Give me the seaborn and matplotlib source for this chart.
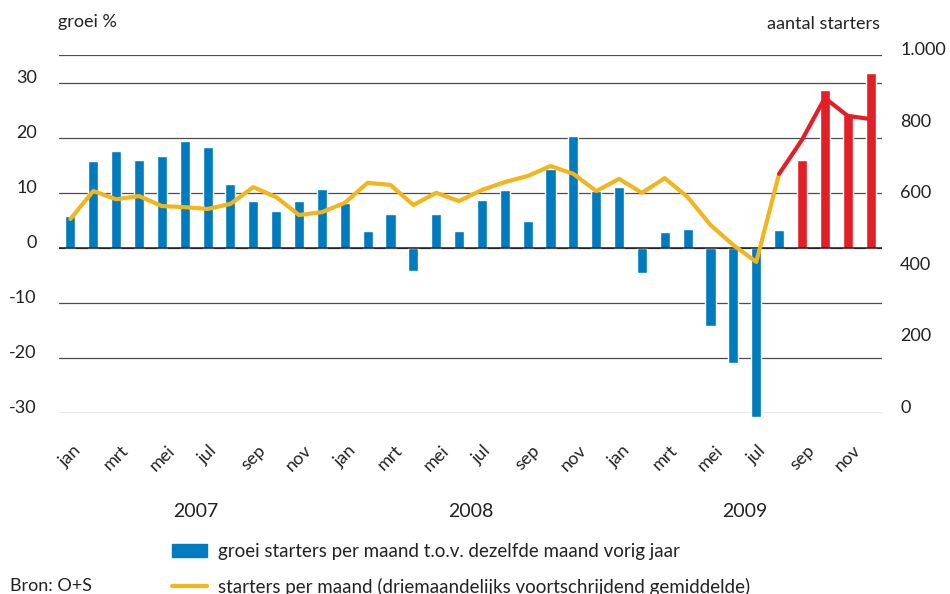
import matplotlib
matplotlib.use('Agg')
import matplotlib.pyplot as plt
import matplotlib.transforms as mtransforms
from matplotlib.patches import Patch
from matplotlib.lines import Line2D
import pandas as pd
import seaborn as sns

# data, jan 2007 .. dec 2009
maanden = ['jan', 'feb', 'mrt', 'apr', 'mei', 'jun', 'jul', 'aug', 'sep', 'okt', 'nov', 'dec']
jaren = ['2007', '2008', '2009']
groei = [5.8, 15.8, 17.6, 16.0, 16.7, 19.4, 18.3, 11.6, 8.5, 6.7, 8.5, 10.7,
         8.1, 3.1, 6.2, -4.2, 6.2, 3.1, 8.7, 10.5, 4.9, 14.3, 20.3, 10.3,
         11.1, -4.5, 2.9, 3.4, -14.2, -20.9, -30.7, 3.3, 16.0, 28.7, 24.1, 31.8]
periode = ['blauw'] * 32 + ['rood'] * 4
# starters per maand (3-maands voortschrijdend gemiddelde)
starters_geel = [542, 620, 597, 606, 578, 575, 570, 584, 631, 603, 553, 561,
                 587, 643, 637, 581, 615, 592, 623, 645, 662, 690, 668, 620,
                 654, 615, 656, 603, 525, 469, 422, 668]
starters_rood = [668, 763, 880, 830, 821]  # aug .. dec 2009
rechts_ticks = [0, 200, 400, 600, 800, 1000]
rechts_labels = ['0', '200', '400', '600', '800', '1.000']

BLUE = '#007bbd'
RED = '#e21f26'
YELLOW = '#f3b51c'
GRID = '#4d4d4d'
TXT = '#222222'
FS = 13

sns.set_theme(style='white')
plt.rcParams['font.family'] = ['Lato', 'DejaVu Sans']
plt.rcParams['font.size'] = FS
plt.rcParams['text.color'] = TXT

fig = plt.figure(figsize=(9.5, 5.94), dpi=100)
ax = fig.add_axes([0.0621, 0.3047, 0.8663, 0.6027])

n = len(groei)
df = pd.DataFrame({'pos': list(range(n)), 'groei': groei, 'periode': periode})
sns.barplot(data=df, x='pos', y='groei', hue='periode',
            palette={'blauw': BLUE, 'rood': RED}, dodge=False, width=0.44,
            saturation=1, errorbar=None, legend=False, ax=ax, zorder=2)
for p in ax.patches:
    p.set_clip_on(False)

ax.set_ylim(-30, 35)
ax.set_yticks(range(-30, 31, 10))
ax.set_yticklabels([str(v) for v in range(-30, 31, 10)])
ax.yaxis.grid(True, color=GRID, lw=0.9)
ax.set_axisbelow(True)
ax.axhline(0, color='#1a1a1a', lw=1.1, zorder=3)
ax.axhline(35, color=GRID, lw=0.9, zorder=1)

ax2 = ax.twinx()
sns.lineplot(x=list(range(len(starters_geel))), y=starters_geel, color=YELLOW,
             lw=3, ax=ax2)
sns.lineplot(x=list(range(len(starters_geel) - 1, n)), y=starters_rood, color=RED,
             lw=3, ax=ax2)
ax2.set_ylim(0, 1000)
ax2.set_yticks(rechts_ticks)
ax2.set_yticklabels(rechts_labels)
ax2.set_ylabel('')

ax.set_xlim(-0.5, n - 0.5)
ax.set_xticks(range(0, n, 2))
ax.set_xticklabels(maanden[::2] * 3, rotation=45, ha='center')
ax.set_xlabel('')
ax.set_ylabel('')

for a in (ax, ax2):
    for s in a.spines.values():
        s.set_visible(False)
ax.tick_params(axis='x', length=0, pad=21, labelsize=FS, colors=TXT)
ax.tick_params(axis='y', length=0, pad=16, labelsize=FS, colors=TXT)
ax2.tick_params(axis='y', length=0, pad=13, labelsize=FS, colors=TXT)
plt.setp(ax.get_yticklabels(), va='baseline')
plt.setp(ax2.get_yticklabels(), va='baseline')

# jaartallen onder de maanden
trans = mtransforms.blended_transform_factory(ax.transData, ax.transAxes)
for i, jaar in enumerate(jaren):
    ax.text(5.5 + 12 * i, -0.276, jaar, transform=trans, ha='center',
            va='center', fontsize=14)

fig.text(58 / 950, 1 - 22 / 594, 'groei %', ha='left', va='center')
fig.text(880 / 950, 1 - 24 / 594, 'aantal starters', ha='right', va='center')
fig.text(10 / 950, 1 - 586 / 594, 'Bron: O+S', ha='left', va='center')

handles = [Patch(color=BLUE), Line2D([], [], color=YELLOW, lw=3)]
labels = ['groei starters per maand t.o.v. dezelfde maand vorig jaar',
          'starters per maand (driemaandelijks voortschrijdend gemiddelde)']
fig.legend(handles, labels, loc='upper left', bbox_to_anchor=(172 / 950, 1 - 543 / 594),
           frameon=False, handlelength=1.85, handleheight=0.72, handletextpad=0.6,
           labelspacing=0.95, borderaxespad=0, borderpad=0, fontsize=13.5)

fig.savefig('out.png', dpi=100)
